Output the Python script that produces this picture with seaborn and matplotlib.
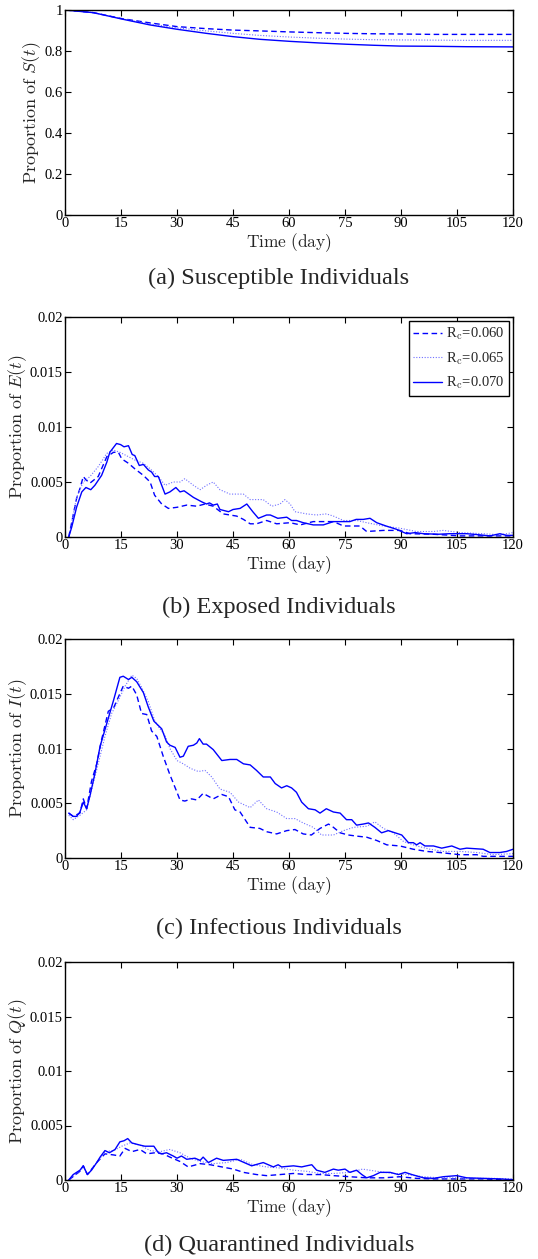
import pandas as pd
import seaborn as sns
import matplotlib.pyplot as plt

# ---- data (time in days, proportions) ----
rc_labels = [r"R$_{\mathrm{c}}$=0.060", r"R$_{\mathrm{c}}$=0.065", r"R$_{\mathrm{c}}$=0.070"]

# (a) susceptible
t_S = [0, 7.6, 15.2, 22.8, 30, 37.9, 45, 52.2, 60.3, 68.3, 75.4, 82.6, 89.7, 98.7, 107.6, 120]
S_060 = [1.0, 0.987, 0.958, 0.937, 0.919, 0.909, 0.902, 0.898, 0.893, 0.889, 0.886, 0.884, 0.883, 0.881, 0.881, 0.881]
S_065 = [1.0, 0.987, 0.957, 0.932, 0.913, 0.898, 0.886, 0.876, 0.868, 0.862, 0.858, 0.855, 0.854, 0.853, 0.852, 0.852]
S_070 = [1.0, 0.987, 0.956, 0.927, 0.906, 0.886, 0.870, 0.857, 0.847, 0.839, 0.833, 0.828, 0.824, 0.823, 0.821, 0.820]

# (b) exposed
t_E_060 = [1, 3.1, 4, 4.9, 5.6, 6.7, 8.9, 11.2, 13, 14.3, 15.2, 17, 18.7, 21, 22.8, 24, 25.9, 27.7, 30, 32.6,
           35.3, 37.5, 39.7, 42.4, 46, 47.8, 49.6, 51.3, 54, 56.7, 60.3, 63, 66.5, 68.3, 71.9, 74.6, 79, 80.8,
           85.3, 89.7, 92.4, 98.7, 105.8, 112, 120]
E_060 = [0, 0.0035, 0.0044, 0.0055, 0.0052, 0.0049, 0.0055, 0.0073, 0.0077, 0.0077, 0.0071, 0.0067, 0.0062,
         0.0056, 0.0050, 0.0038, 0.0030, 0.0026, 0.0027, 0.0029, 0.0028, 0.0030, 0.0028, 0.0021, 0.0019, 0.0016,
         0.0012, 0.0012, 0.0015, 0.0012, 0.0013, 0.0011, 0.0014, 0.0014, 0.0014, 0.0010, 0.0010, 0.0005, 0.0006,
         0.0006, 0.0003, 0.00025, 0.0001, 0.0001, 0.0001]
t_E_065 = [1, 3.1, 4.9, 6.7, 8.9, 11.2, 13, 14.7, 17, 18.7, 21, 22.8, 25, 26.8, 29, 30.8, 32.1, 34.4, 36.2, 37.9,
           39.7, 41.5, 44.2, 47.8, 49.6, 53.1, 55.4, 57.6, 58.9, 60.3, 61.6, 64.7, 67.4, 70, 71.9, 74.6, 78.2,
           80.8, 85.3, 89.7, 94.1, 98.7, 101.3, 105.8, 112, 116.5, 120]
E_065 = [0, 0.0036, 0.0050, 0.0055, 0.0064, 0.0076, 0.0079, 0.0077, 0.0073, 0.0070, 0.0067, 0.0062, 0.0055,
         0.0047, 0.0050, 0.0050, 0.0053, 0.0047, 0.0043, 0.0047, 0.0050, 0.0043, 0.0039, 0.0039, 0.0034, 0.0034,
         0.0028, 0.0030, 0.0034, 0.0030, 0.0023, 0.0021, 0.0020, 0.0021, 0.0019, 0.0015, 0.0015, 0.0013, 0.0010,
         0.0008, 0.0005, 0.0005, 0.0006, 0.0004, 0.0003, 0.0002, 0.0004]
t_E_070 = [1, 1.8, 3.1, 4.5, 5.6, 6.9, 8, 9.8, 11.2, 12, 13.8, 14.9, 15.8, 17, 18, 18.7, 19.9, 21, 22.3, 23.2, 24,
           25, 26.8, 28.1, 29.7, 30.8, 31.9, 34.4, 36.6, 37.9, 38.7, 39.7, 40.8, 41.5, 43.8, 45, 46.9, 48.7, 50.3,
           51.8, 54, 55, 57, 59.4, 60.7, 62, 63.8, 66.5, 69.2, 71.9, 73.7, 76.3, 78, 79.9, 81.7, 83.5, 86, 88.8,
           91.5, 93.8, 96, 100, 103, 107.6, 111, 113.8, 116.5, 118.3, 120]
E_070 = [0, 0.0009, 0.0027, 0.0041, 0.0045, 0.0043, 0.0047, 0.0056, 0.0068, 0.0077, 0.0085, 0.0084, 0.0082,
         0.0083, 0.0075, 0.0074, 0.0065, 0.0066, 0.0061, 0.0059, 0.0055, 0.0055, 0.0039, 0.0041, 0.0045, 0.0041,
         0.0042, 0.0036, 0.0032, 0.0030, 0.0031, 0.0029, 0.0030, 0.0025, 0.0023, 0.0025, 0.0026, 0.0030, 0.0023,
         0.0017, 0.0020, 0.0020, 0.0017, 0.0018, 0.0015, 0.0015, 0.0013, 0.0011, 0.0011, 0.0014, 0.0014, 0.0014,
         0.0016, 0.0016, 0.0017, 0.0013, 0.0010, 0.0007, 0.0003, 0.0004, 0.0003, 0.00025, 0.0003, 0.0003, 0.0002,
         0.0001, 0.0003, 0.00015, 0.00015]

# (c) infectious
t_I_060 = [1, 2.2, 4, 4.9, 5.8, 7.1, 8.5, 9.8, 11.6, 13, 14.3, 15.6, 17, 17.9, 19.2, 20.5, 21.9, 23.2, 24.6, 26.3,
           28.1, 30, 30.8, 32.1, 33.9, 35.3, 37, 39.7, 42, 43.8, 45.5, 46.9, 49.6, 52.2, 54, 56.7, 59.4, 61.6,
           63.8, 66, 68.3, 70.6, 71.9, 73.7, 75.9, 78.1, 80.8, 83.5, 86.2, 89.7, 93.3, 96.9, 100.4, 105.8, 110.3,
           112, 120]
I_060 = [0.0041, 0.0038, 0.0041, 0.0054, 0.0045, 0.0070, 0.0086, 0.0108, 0.0134, 0.0137, 0.0147, 0.0157, 0.0155,
         0.0157, 0.0149, 0.0132, 0.0131, 0.0116, 0.0111, 0.0093, 0.0076, 0.0060, 0.0053, 0.0052, 0.0054, 0.0053,
         0.0059, 0.0054, 0.0058, 0.0056, 0.0044, 0.0042, 0.0028, 0.0027, 0.0024, 0.0022, 0.0025, 0.0026, 0.0022,
         0.0021, 0.0027, 0.0031, 0.0028, 0.0023, 0.0021, 0.0020, 0.0019, 0.0016, 0.0012, 0.0011, 0.0008, 0.0006,
         0.0005, 0.0003, 0.0003, 0.00015, 0.00015]
t_I_065 = [1, 2.2, 4, 5.8, 7.1, 8.9, 10.7, 12.5, 14.3, 16.1, 17.9, 19.2, 20.5, 22.3, 24.1, 25.4, 26.8, 28.1, 30,
           31.7, 33.5, 35.7, 37.5, 39.3, 41.5, 44.2, 46.5, 49.6, 51.8, 54, 56.7, 59.4, 61.6, 63.8, 66.5, 68.7,
           71.9, 74.6, 77.3, 80.8, 83, 85.3, 87.9, 90.7, 94.2, 97.8, 101.3, 105.8, 110.3, 114.8, 120]
I_065 = [0.0039, 0.0035, 0.0039, 0.0044, 0.0062, 0.0086, 0.0111, 0.0132, 0.0144, 0.0157, 0.0167, 0.0164, 0.0156,
         0.0143, 0.0125, 0.0118, 0.0112, 0.0100, 0.0089, 0.0086, 0.0082, 0.0079, 0.0080, 0.0074, 0.0063, 0.0060,
         0.0051, 0.0046, 0.0053, 0.0045, 0.0042, 0.0036, 0.0036, 0.0032, 0.0028, 0.0021, 0.0021, 0.0025, 0.0028,
         0.0029, 0.0033, 0.0027, 0.0023, 0.0015, 0.0011, 0.0008, 0.0006, 0.0006, 0.0005, 0.0003, 0.0004]
t_I_070 = [1, 2.2, 3.1, 4, 4.9, 5.8, 6.7, 8, 9.4, 11.2, 13, 14.7, 15.6, 17, 17.9, 19.2, 21, 22.3, 23.8, 25, 25.9,
           27.2, 28.1, 29.5, 30.8, 31.7, 33, 34.4, 35.3, 36, 37, 37.9, 39.7, 42, 44.2, 46, 47.8, 49.6, 51.3, 53.1,
           55, 56.3, 58, 59.4, 60.7, 62, 63.4, 65.2, 67, 68.3, 70, 71.9, 73.7, 75.4, 76.8, 78.1, 79.9, 81.3, 83,
           84.8, 86.6, 88.4, 90.2, 92, 93.3, 94.2, 95.1, 96.4, 98.7, 100.9, 103.6, 105.8, 107.6, 112, 113.8, 116.5,
           118.3, 120]
I_070 = [0.0041, 0.0038, 0.0038, 0.0042, 0.0051, 0.0045, 0.0057, 0.0077, 0.0102, 0.0123, 0.0144, 0.0165, 0.0166,
         0.0163, 0.0165, 0.0161, 0.0151, 0.0138, 0.0125, 0.0121, 0.0118, 0.0106, 0.0103, 0.0101, 0.0092, 0.0093,
         0.0102, 0.0103, 0.0105, 0.0109, 0.0104, 0.0104, 0.0099, 0.0089, 0.0090, 0.0090, 0.0086, 0.0085, 0.0080,
         0.0074, 0.0074, 0.0068, 0.0064, 0.0066, 0.0064, 0.0060, 0.0051, 0.0045, 0.0044, 0.0041, 0.0045, 0.0042,
         0.0041, 0.0035, 0.0035, 0.0030, 0.0031, 0.0032, 0.0028, 0.0023, 0.0025, 0.0023, 0.0021, 0.0014, 0.0014,
         0.0012, 0.0014, 0.0011, 0.0011, 0.0009, 0.0011, 0.0008, 0.0009, 0.0008, 0.0005, 0.0005, 0.0006, 0.0008]

# (d) quarantined
t_Q_060 = [1, 4, 4.9, 6, 8.5, 10.7, 13, 14.7, 16.1, 17.9, 20.1, 21.9, 24.1, 26.3, 28.1, 30.8, 33, 36.2, 38.9, 42,
           45.1, 47.8, 51.3, 54, 57.6, 61.2, 64.7, 68.3, 71.9, 76.3, 80.8, 85.3, 89.7, 94.2, 98.7, 103.3, 107.6,
           112, 120]
Q_060 = [0, 0.0008, 0.0013, 0.0005, 0.0016, 0.0024, 0.0023, 0.0022, 0.0029, 0.0026, 0.0028, 0.0024, 0.0025,
         0.0024, 0.0021, 0.0017, 0.0012, 0.0015, 0.0014, 0.0012, 0.0010, 0.0007, 0.0005, 0.0004, 0.0005, 0.0006,
         0.0005, 0.0005, 0.0004, 0.0003, 0.0002, 0.0002, 0.0003, 0.00015, 0.0001, 0.0001, 0.0001, 0.0001, 0]
t_Q_065 = [1, 4, 4.9, 6, 8.5, 10.7, 13, 15.2, 17.4, 20.1, 22.8, 25.4, 28.1, 30.8, 33.5, 36.2, 39.7, 43.3, 46.9,
           50.4, 54, 57.6, 61.2, 64.7, 68.3, 71.9, 76.3, 79.7, 83.5, 87.9, 91.5, 96, 100.4, 104.9, 109.4, 114.8, 120]
Q_065 = [0, 0.0008, 0.0012, 0.0005, 0.0016, 0.0026, 0.0027, 0.0031, 0.0034, 0.0032, 0.0027, 0.0026, 0.0028,
         0.0025, 0.0020, 0.0017, 0.0015, 0.0016, 0.0019, 0.0014, 0.0012, 0.0011, 0.0009, 0.0008, 0.0006, 0.0006,
         0.0007, 0.0010, 0.0008, 0.0006, 0.0005, 0.0003, 0.0002, 0.0002, 0.00015, 0.00015, 0.0001]
t_Q_070 = [1, 2.2, 3.1, 4, 4.9, 6, 7.1, 8.5, 9.4, 10.7, 11.9, 13.4, 14.7, 15.8, 16.8, 17.9, 20.1, 21.4, 22.3, 23.8,
           25, 25.9, 27.2, 29, 30, 31.2, 32.6, 34.8, 36.2, 37, 38.4, 40.6, 42.4, 46, 50, 53.1, 55.8, 57.1, 58,
           61.2, 63.4, 64.7, 66.1, 67.4, 69.6, 71.9, 73.2, 75, 76.3, 78.1, 79.5, 80.8, 82.6, 84.4, 87.1, 89.3,
           91.1, 92.9, 96, 98.7, 101.3, 104.9, 107.6, 112, 116.5, 120]
Q_070 = [0, 0.0005, 0.0007, 0.0009, 0.0013, 0.0005, 0.0009, 0.0016, 0.0021, 0.0027, 0.0025, 0.0028, 0.0035,
         0.0036, 0.0038, 0.0034, 0.0032, 0.0031, 0.0031, 0.0031, 0.0025, 0.0024, 0.0025, 0.0022, 0.0020, 0.0022,
         0.0019, 0.0020, 0.0018, 0.0021, 0.0016, 0.0020, 0.0018, 0.0019, 0.0013, 0.0016, 0.0012, 0.0014, 0.0012,
         0.0013, 0.0012, 0.0013, 0.0014, 0.0009, 0.0007, 0.0010, 0.0009, 0.0010, 0.0007, 0.0009, 0.0005, 0.0002,
         0.0004, 0.0007, 0.0007, 0.0005, 0.0007, 0.0005, 0.0002, 0.00015, 0.0003, 0.0004, 0.0002, 0.00015, 0.0001,
         0.00003]

x_ticks = [0, 15, 30, 45, 60, 75, 90, 105, 120]
S_ticks = [0, 0.2, 0.4, 0.6, 0.8, 1.0]
S_tick_labels = ["0", "0.2", "0.4", "0.6", "0.8", "1"]
small_ticks = [0, 0.005, 0.01, 0.015, 0.02]
small_tick_labels = ["0", "0.005", "0.01", "0.015", "0.02"]

panels = [
    ("S", [(t_S, S_060), (t_S, S_065), (t_S, S_070)], S_ticks, S_tick_labels, "(a) Susceptible Individuals"),
    ("E", [(t_E_060, E_060), (t_E_065, E_065), (t_E_070, E_070)], small_ticks, small_tick_labels, "(b) Exposed Individuals"),
    ("I", [(t_I_060, I_060), (t_I_065, I_065), (t_I_070, I_070)], small_ticks, small_tick_labels, "(c) Infectious Individuals"),
    ("Q", [(t_Q_060, Q_060), (t_Q_065, Q_065), (t_Q_070, Q_070)], small_ticks, small_tick_labels, "(d) Quarantined Individuals"),
]

# ---- styling ----
sns.set_style("ticks")
plt.rcParams['font.family'] = ['Liberation Serif', 'DejaVu Serif']
plt.rcParams['mathtext.fontset'] = 'cm'

line_styles = [
    dict(linestyle=(0, (4, 2.5)), linewidth=1.0, color="#0000ff"),
    dict(linestyle=(0, (1, 1.5)), linewidth=0.8, color="#6f6fff"),
    dict(linestyle="-", linewidth=1.0, color="#0000ff"),
]

W, H = 538, 1259
fig = plt.figure(figsize=(W / 100, H / 100), dpi=100)

# axes boxes in pixels: (top, bottom); captions centre y in pixels
ax_left, ax_right = 65, 513
boxes = [(10, 215), (317, 537), (639, 858), (962, 1180)]
caption_y = [278, 607, 928, 1245]

for (name, series, yt, ytl, caption), (top, bot), cy in zip(panels, boxes, caption_y):
    ax = fig.add_axes([ax_left / W, 1 - bot / H, (ax_right - ax_left) / W, (bot - top) / H])
    for i, (t, v) in enumerate(series):
        df = pd.DataFrame({"t": t, "v": v})
        sns.lineplot(data=df, x="t", y="v", ax=ax, label=rc_labels[i] if name == "E" else None,
                     legend=False, **line_styles[i])
    ax.set_xlim(0, 120)
    ax.set_ylim(yt[0], yt[-1])
    ax.set_xticks(x_ticks)
    ax.set_xticklabels([str(x) for x in x_ticks], fontsize=10.5)
    ax.set_yticks(yt)
    ax.set_yticklabels(ytl, fontsize=10.5)
    ax.tick_params(direction="in", length=4, width=0.8, top=True, right=True, pad=1.5, colors="black")
    for sp in ax.spines.values():
        sp.set_linewidth(1.0)
        sp.set_color("black")
        sp.set_visible(True)
    ax.set_xlabel(r"$\mathrm{Time\ (day)}$", fontsize=12.5, labelpad=1)
    ax.set_ylabel(r"$\mathrm{Proportion\ of\ }%s(t)$" % name, fontsize=13, labelpad=1)
    if name == "E":
        leg = ax.legend(loc="upper right", fontsize=10.5, frameon=True, fancybox=False, framealpha=1,
                        edgecolor="black", handlelength=2.0, handletextpad=0.25, labelspacing=0.55,
                        borderpad=0.3, borderaxespad=0.3)
        leg.get_frame().set_linewidth(1.0)
    fig.text(279 / W, 1 - cy / H, caption, ha="center", va="center", fontsize=17.5)

fig.savefig("out.png", dpi=100)
